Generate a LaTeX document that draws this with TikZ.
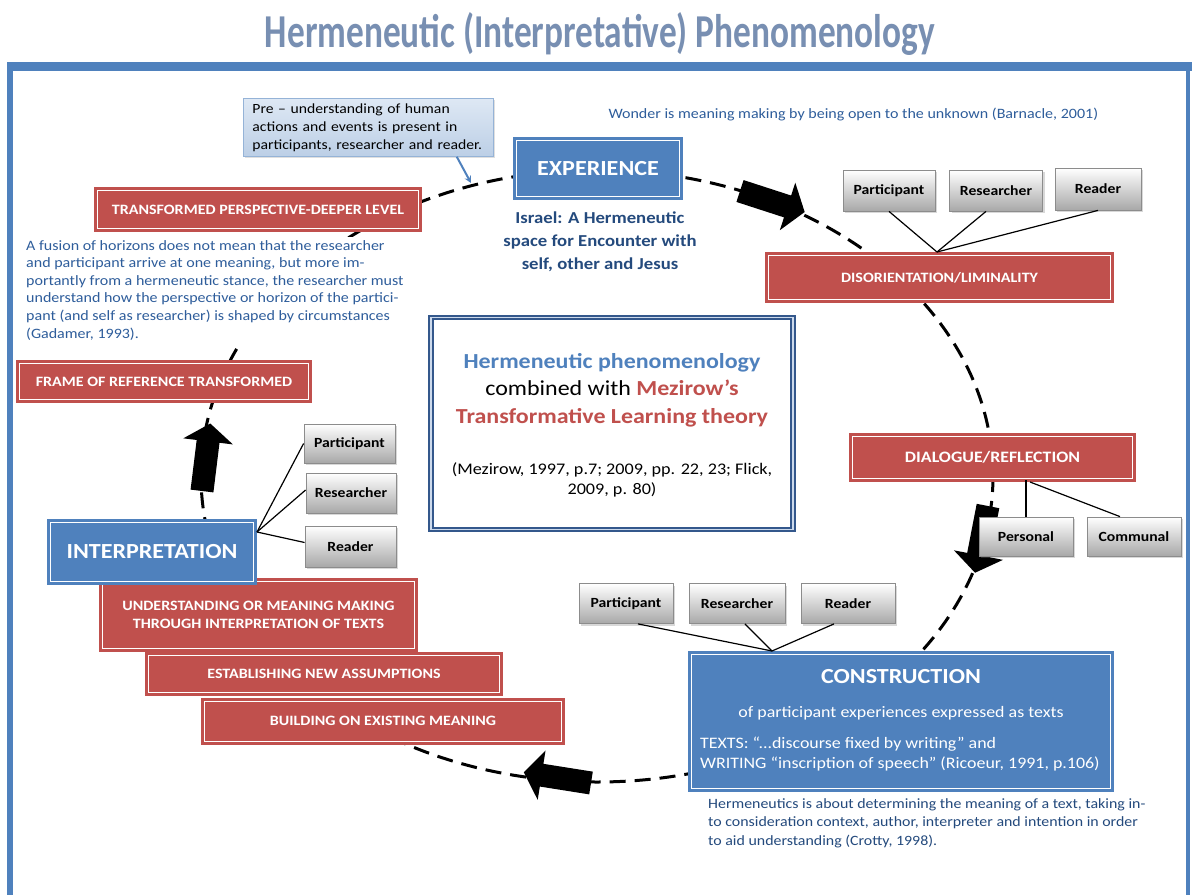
\documentclass[tikz,border=0pt]{standalone}
\usepackage{fontspec}
\setmainfont{Carlito}[FakeStretch=1.12]
\usetikzlibrary{shadows}
\definecolor{accblue}{RGB}{79,129,189}
\definecolor{accred}{RGB}{192,80,77}
\definecolor{navy}{RGB}{36,74,125}
\definecolor{titleblue}{RGB}{120,143,178}
\definecolor{noteblue}{RGB}{46,93,155}
\definecolor{framedark}{RGB}{52,88,140}
\definecolor{greyline}{RGB}{140,140,140}
\tikzset{
  redbox/.style={draw=accred, fill=accred, double=white, double distance=1pt,
    line width=3pt, text=white, align=center, inner sep=0pt,
    font=\bfseries\fontsize{14.3}{18}\selectfont},
  bluebox/.style={draw=accblue, fill=accblue, double=white, double distance=1pt,
    line width=3pt, text=white, align=center, inner sep=0pt},
  greybox/.style={draw=greyline, line width=0.8pt, top color=white,
    bottom color={rgb,255:red,168;green,168;blue,168}, inner sep=0pt,
    font=\bfseries\fontsize{14}{16}\selectfont,
    drop shadow={shadow xshift=2pt, shadow yshift=-2pt, opacity=0.3}},
  linkline/.style={draw=black, line width=1.2pt},
  cycleline/.style={draw=black, line width=3pt, dash pattern=on 16pt off 9pt},
  blockarrow/.pic={\fill[black] (0,-11.5) -- (50,-11.5) -- (50,-25) -- (68,0)
    -- (50,25) -- (50,11.5) -- (0,11.5) -- cycle;}
}
\begin{document}
\begin{tikzpicture}[x=1pt,y=-1pt]
\useasboundingbox (0,0) rectangle (1192,895);
\fill[white] (0,0) rectangle (1192,895);

% title
\node[anchor=base, text=titleblue, inner sep=0pt] (title) at (600,47)
  {\resizebox{670pt}{35pt}{\bfseries Hermeneutic (Interpretative) Phenomenology}};

% outer frame
\fill[accblue] (7,62) rectangle (1192,71);
\fill[accblue] (7,62) rectangle (13,895);
\fill[accblue] (1186,62) rectangle (1190,895);

% the interpretive cycle
\draw[cycleline] (597,476) ellipse [x radius=396, y radius=306];

% block arrows along the cycle
\pic[rotate=-18] at (740,191) {blockarrow};
\pic[rotate=-101] at (988,506) {blockarrow};
\pic[rotate=171] at (591,783) {blockarrow};
\pic[rotate=83] at (202,491) {blockarrow};

% pre-understanding callout
\node[anchor=north west, text width=232pt, inner xsep=9pt, inner ysep=5pt,
  align=left, draw={rgb,255:red,149;green,179;blue,215}, line width=0.8pt,
  top color={rgb,255:red,222;green,232;blue,244},
  bottom color={rgb,255:red,188;green,207;blue,230},
  drop shadow={shadow xshift=2pt, shadow yshift=-2pt, opacity=0.25},
  font=\fontsize{14}{18}\selectfont] (pre) at (243,98)
  {Pre -- understanding of human\\actions and events is present in\\participants, researcher and reader.};
\coordinate (pretip) at (471,183);
\draw[accblue, line width=2pt, -stealth] (pre.south east) ++(-37,0) -- (pretip);

% experience
\node[bluebox, minimum width=163pt, minimum height=56pt,
  font=\bfseries\fontsize{21.5}{24}\selectfont] (exp) at (598,168.5) {EXPERIENCE};
\node[text=navy, align=center, font=\bfseries\fontsize{16.7}{23}\selectfont] (israel)
  at (600,242) {Israel: A Hermeneutic\\space for Encounter with\\self, other and Jesus};

\node[text=noteblue, font=\fontsize{14.3}{18}\selectfont, anchor=west] (wonder) at (605,114)
  {Wonder is meaning making by being open to the unknown (Barnacle, 2001)};

% disorientation
\node[greybox, minimum width=92pt, minimum height=41pt] (tp1) at (889,190.5) {Participant};
\node[greybox, minimum width=93pt, minimum height=41pt] (tp2) at (996,190.5) {Researcher};
\node[greybox, minimum width=86pt, minimum height=42pt] (tp3) at (1098,189) {Reader};
\node[redbox, minimum width=342pt, minimum height=44pt,
  font=\bfseries\fontsize{14.3}{16}\selectfont] (dis) at (939.5,277.5) {DISORIENTATION/LIMINALITY};
\coordinate (disjoin) at (937,252);
\draw[linkline] (tp1.south) -- (disjoin);
\draw[linkline] ([xshift=-10pt]tp2.south) -- (disjoin);
\draw[linkline] (tp3.south) -- (disjoin);

% dialogue
\node[redbox, minimum width=280pt, minimum height=42pt,
  font=\bfseries\fontsize{15.9}{18}\selectfont] (dlg) at (992.5,457.5) {DIALOGUE/REFLECTION};
\node[greybox, minimum width=94pt, minimum height=39pt] (pers) at (1026,536.5) {Personal};
\node[greybox, minimum width=94pt, minimum height=39pt] (comm) at (1134,536.5) {Communal};
\coordinate (dlgjoin) at (1030,482);
\draw[linkline] (dlg.south -| pers.north) -- (pers.north);
\draw[linkline] (dlgjoin) -- ([xshift=-14pt]comm.north);

% construction
\node[greybox, minimum width=94pt, minimum height=40pt] (bp1) at (626,603.5) {Participant};
\node[greybox, minimum width=96pt, minimum height=40pt] (bp2) at (737,603.5) {Researcher};
\node[greybox, minimum width=94pt, minimum height=40pt] (bp3) at (848,603.5) {Reader};
\node[bluebox, minimum width=419pt, minimum height=134pt] (con) at (901,721.5) {};
\coordinate (conjoin) at (772,651);
\draw[linkline] ([xshift=12pt]bp1.south) -- (conjoin);
\draw[linkline] ([xshift=8pt]bp2.south) -- (conjoin);
\draw[linkline] ([xshift=-14pt]bp3.south) -- (conjoin);
\node[text=white, font=\bfseries\fontsize{21.5}{26}\selectfont] (contitle) at (901,677) {CONSTRUCTION};
\node[text=white, font=\fontsize{16}{19}\selectfont] (consub) at (901,713)
  {of participant experiences expressed as texts};
\node[text=white, anchor=west, align=left, inner sep=0pt,
  font=\fontsize{16}{20.5}\selectfont] (contexts) at (700,754)
  {TEXTS: “...discourse fixed by writing” and\\WRITING “inscription of speech” (Ricoeur, 1991, p.106)};
\node[text=navy, anchor=north west, align=left, inner sep=0pt,
  font=\fontsize{14.2}{18.5}\selectfont] (crotty) at (708,798)
  {Hermeneutics is about determining the meaning of a text, taking in-\\to consideration context, author, interpreter and intention in order\\to aid understanding (Crotty, 1998).};

% interpretation stack
\node[redbox, minimum width=357pt, minimum height=40pt] (build) at (383,721) {BUILDING ON EXISTING MEANING};
\node[redbox, minimum width=351pt, minimum height=37pt] (estab) at (324,674) {ESTABLISHING NEW ASSUMPTIONS};
\node[redbox, minimum width=312pt, minimum height=67pt] (under) at (258.5,615)
  {UNDERSTANDING OR MEANING MAKING\\THROUGH INTERPRETATION OF TEXTS};
\node[bluebox, minimum width=203pt, minimum height=59pt,
  font=\bfseries\fontsize{21.5}{24}\selectfont] (interp) at (152,552) {INTERPRETATION};
\node[greybox, minimum width=91pt, minimum height=39pt] (lp1) at (349.5,443.5) {Participant};
\node[greybox, minimum width=90pt, minimum height=40pt] (lp2) at (351,493) {Researcher};
\node[greybox, minimum width=91pt, minimum height=41pt] (lp3) at (350.5,546.5) {Reader};
\coordinate (intjoin) at (257,532);
\draw[linkline] (intjoin) -- (lp1.west);
\draw[linkline] (intjoin) -- ([yshift=3pt]lp2.west);
\draw[linkline] (intjoin) -- ([yshift=4pt]lp3.west);

% transformation
\node[redbox, minimum width=289pt, minimum height=36pt] (frame) at (164,381.5) {FRAME OF REFERENCE TRANSFORMED};
\node[fill=white, text=noteblue, anchor=north west, align=left, inner xsep=2pt, inner ysep=3pt,
  font=\fontsize{14.3}{17.6}\selectfont] (fusion) at (24,237)
  {A fusion of horizons does not mean that the researcher\\
   and participant arrive at one meaning, but more im-\\
   portantly from a hermeneutic stance, the researcher must\\
   understand how the perspective or horizon of the partici-\\
   pant (and self as researcher) is shaped by circumstances\\
   (Gadamer, 1993).};
\node[redbox, minimum width=321pt, minimum height=38pt] (deeper) at (258,209.5) {TRANSFORMED PERSPECTIVE-DEEPER LEVEL};

% central statement
\node[draw=framedark, line width=2pt, double={rgb,255:red,205;green,218;blue,236},
  double distance=1.5pt, fill=white, minimum width=362pt, minimum height=212pt] (core) at (612,423.5) {};
\node[align=center, font=\bfseries\fontsize{21.4}{27.5}\selectfont] (corehead) at (612,390)
  {\textcolor{accblue}{Hermeneutic phenomenology}\\
   {\mdseries combined with} \textcolor{accred}{Mezirow’s}\\
   \textcolor{accred}{Transformative Learning theory}};
\node[align=center, font=\fontsize{16.2}{20.5}\selectfont] (corecite) at (612,480)
  {(Mezirow, 1997, p.7; 2009, pp. 22, 23; Flick,\\2009, p. 80)};
\end{tikzpicture}
\end{document}
